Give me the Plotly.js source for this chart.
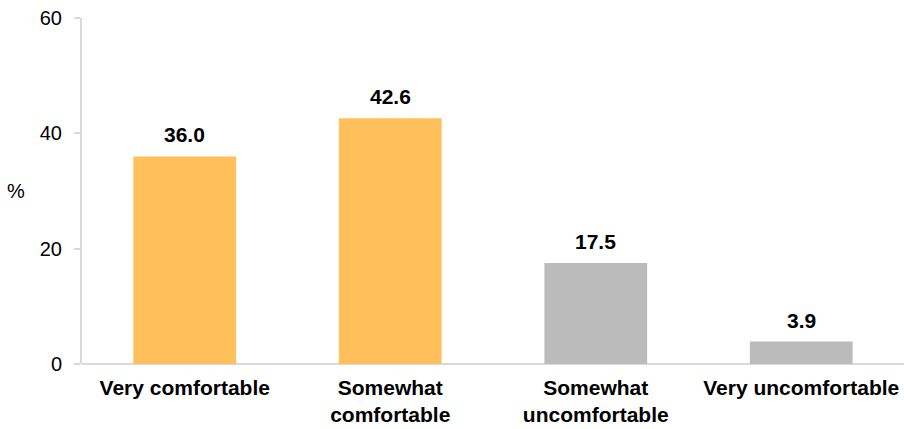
<!DOCTYPE html>
<html>
<head>
<meta charset="utf-8">
<script src="https://cdn.plot.ly/plotly-3.0.1.min.js"></script>
<style>html,body{margin:0;padding:0;background:#fff;}#chart{width:904px;height:429px;}</style>
</head>
<body>
<div id="chart"></div>
<script>
const categories = ["Very comfortable", "Somewhat<br>comfortable", "Somewhat<br>uncomfortable", "Very uncomfortable"];
const values = [36.0, 42.6, 17.5, 3.9];
const barColors = ["#FFBF5A", "#FFBF5A", "#BBBBBB", "#BBBBBB"];
const yTicks = [0, 20, 40, 60];

const trace = {
  type: "bar",
  x: categories,
  y: values,
  marker: {color: barColors},
  width: 0.5,
  hoverinfo: "skip"
};

const annotations = categories.map((c, i) => ({
  x: c, y: values[i], xref: "x", yref: "y",
  text: "<b>" + values[i].toFixed(1) + "</b>",
  showarrow: false, yanchor: "bottom", yshift: 8,
  font: {family: "Liberation Sans, Arial, sans-serif", size: 21, color: "#000"}
}));
annotations.push({
  xref: "paper", yref: "paper", x: -0.08, y: 0.5, xanchor: "center", yanchor: "middle",
  text: "%", showarrow: false,
  font: {family: "Liberation Sans, Arial, sans-serif", size: 20, color: "#000"}
});

const layout = {
  width: 904, height: 429,
  margin: {l: 82, r: 0, t: 17.5, b: 65, pad: 0},
  paper_bgcolor: "#fff", plot_bgcolor: "#fff",
  showlegend: false,
  font: {family: "Liberation Sans, Arial, sans-serif", color: "#000"},
  xaxis: {
    type: "category",
    showline: false, showgrid: false, zeroline: false,
    ticks: "", tickfont: {size: 21, color: "#000", weight: "bold"},
    ticklabelstandoff: 9,
    fixedrange: true
  },
  yaxis: {
    range: [0, 60], tickvals: yTicks, ticktext: yTicks.map(String),
    showgrid: false, zeroline: true, zerolinecolor: "#D9D9D9", zerolinewidth: 2,
    showline: true, linecolor: "#D9D9D9", linewidth: 2,
    ticks: "outside", ticklen: 6, tickcolor: "#D9D9D9", tickwidth: 2,
    tickfont: {size: 20, color: "#000"}, ticklabelstandoff: 8,
    fixedrange: true
  },
  annotations: annotations,
  bargap: 0.5
};

Plotly.newPlot("chart", [trace], layout, {displayModeBar: false, staticPlot: true});
</script>
</body>
</html>
